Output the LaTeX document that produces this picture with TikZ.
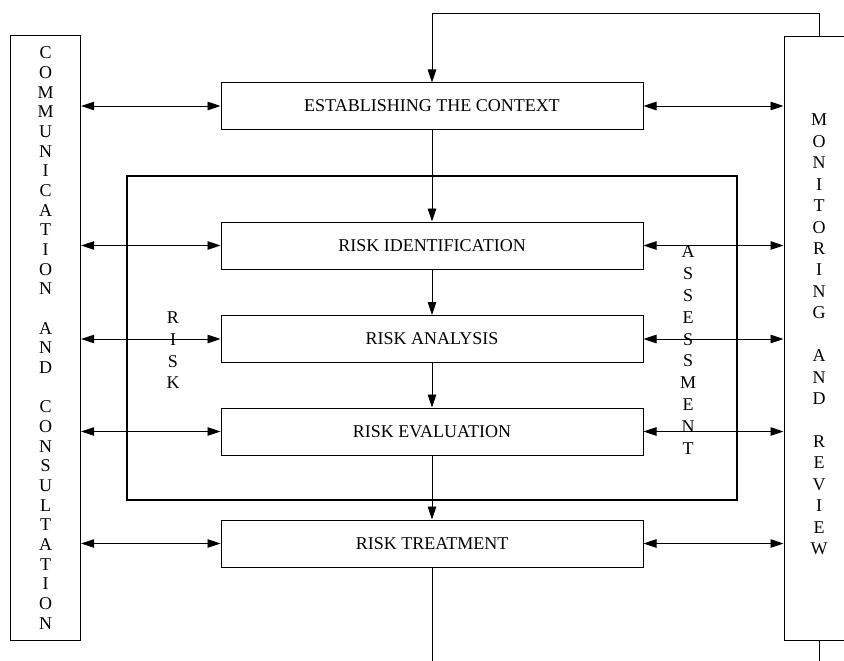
\documentclass[tikz,border=0pt]{standalone}
\usepackage{fontspec}
\setmainfont{Liberation Serif}
\usetikzlibrary{arrows.meta}
\begin{document}
\begin{tikzpicture}[x=1pt,y=-1pt,
  every node/.style={font=\fontsize{18}{21}\selectfont},
  stage/.style={draw, line width=1pt, minimum width=422pt, minimum height=47pt, inner sep=0pt},
  sidebox/.style={draw, line width=1pt, minimum width=70pt, minimum height=604pt, inner sep=0pt},
  letters/.style={align=center, inner sep=0pt},
  link/.style={line width=0.9pt, {Triangle[length=13pt,width=8.5pt]}-{Triangle[length=13pt,width=8.5pt]}},
  flow/.style={line width=0.9pt, -{Triangle[length=13pt,width=8.5pt]}},
  plain/.style={line width=0.9pt}
]
\useasboundingbox (0,0) rectangle (844,661);
\clip (0,0) rectangle (844,661);

% side panels
\node[sidebox] (comm) at (45.7,338) {};
\node[letters, font=\fontsize{18}{19.66}\selectfont] (commlbl) at (45.7,338)
  {C\\O\\M\\M\\U\\N\\I\\C\\A\\T\\I\\O\\N\\~\\A\\N\\D\\~\\C\\O\\N\\S\\U\\L\\T\\A\\T\\I\\O\\N};
\node[sidebox] (mon) at (819,338.8) {};
\node[letters, font=\fontsize{18}{21.45}\selectfont] (monlbl) at (819,334.5)
  {M\\O\\N\\I\\T\\O\\R\\I\\N\\G\\~\\A\\N\\D\\~\\R\\E\\V\\I\\E\\W};

% assessment frame
\node[draw, line width=2pt, minimum width=610pt, minimum height=324pt, inner sep=0pt] (assess) at (432,338) {};
\node[letters, font=\fontsize{18}{21.7}\selectfont] (risklbl) at (173,350.5) {R\\I\\S\\K};
\node[letters, font=\fontsize{18}{21.8}\selectfont] (asslbl) at (688,350) {A\\S\\S\\E\\S\\S\\M\\E\\N\\T};

% process stages
\node[stage, minimum height=46pt] (ctx) at (432,106) {ESTABLISHING THE CONTEXT};
\node[stage] (rid) at (432,245.5) {RISK IDENTIFICATION};
\node[stage] (ran) at (432,339) {RISK ANALYSIS};
\node[stage] (rev) at (432,431.5) {RISK EVALUATION};
\node[stage] (rtr) at (432,543.5) {RISK TREATMENT};

% main flow
\draw[flow] (ctx.south) -- (rid.north);
\draw[flow] (rid.south) -- (ran.north);
\draw[flow] (ran.south) -- (rev.north);
\draw[flow] (rev.south) -- (rtr.north);
\coordinate (outC) at (432,670);
\draw[plain] (rtr.south) -- (outC);

% feedback loop
\coordinate (loop) at (432,13);
\draw[flow] (mon.north) |- (loop) -- (ctx.north);
\coordinate (outR) at (819,670);
\draw[plain] (mon.south) -- (outR);

% communication links
\foreach \s in {ctx,rid,ran,rev,rtr}{
  \draw[link] (comm.east |- \s.west) -- (\s.west);
  \draw[link] (\s.east) -- (mon.west |- \s.east);
}
\end{tikzpicture}
\end{document}
